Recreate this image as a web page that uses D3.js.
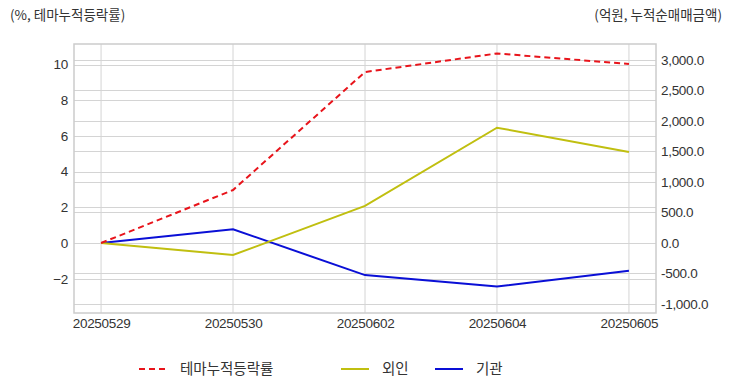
<!DOCTYPE html>
<html>
<head>
<meta charset="utf-8">
<script src="https://cdn.jsdelivr.net/npm/d3@7"></script>
<style>
  body { margin: 0; background: #fff; }
  svg { display: block; font-family: "Noto Sans CJK KR", "Noto Sans", sans-serif; }
</style>
</head>
<body>
<svg id="chart"></svg>
<script>
// chart data
const dates = ["20250529", "20250530", "20250602", "20250604", "20250605"]
const themeRate = [0, 2.97, 9.58, 10.62, 10.03]      // %, left axis
const foreign = [0, -197, 607, 1890, 1490]           // 억원, right axis
const institution = [0, 225, -527, -715, -455]       // 억원, right axis
const leftTicks = [-2, 0, 2, 4, 6, 8, 10]
const rightTicks = [-1000, -500, 0, 500, 1000, 1500, 2000, 2500, 3000]

const width = 732, height = 392
const margin = { top: 44, right: 76, bottom: 79, left: 74 }

const svg = d3.select("#chart")
    .attr("width", width)
    .attr("height", height)
    .attr("viewBox", `0 0 ${width} ${height}`)

const x = d3.scalePoint()
    .domain(dates)
    .range([margin.left, width - margin.right])
    .padding(0.205)
const yL = d3.scaleLinear()
    .domain([-3.92, 11.15])
    .range([height - margin.bottom, margin.top])
const yR = d3.scaleLinear()
    .domain([-1148, 3262])
    .range([height - margin.bottom, margin.top])

const grid = "#d4d4d4"

// gridlines
svg.append("g")
    .attr("stroke", grid)
    .attr("stroke-width", 1)
  .selectAll("line")
  .data(dates)
  .join("line")
    .attr("x1", d => x(d)).attr("x2", d => x(d))
    .attr("y1", margin.top).attr("y2", height - margin.bottom)

svg.append("g")
    .attr("stroke", grid)
  .selectAll("line")
  .data(leftTicks)
  .join("line")
    .attr("x1", margin.left).attr("x2", width - margin.right)
    .attr("y1", d => Math.round(yL(d)) + 0.5).attr("y2", d => Math.round(yL(d)) + 0.5)

svg.append("g")
    .attr("stroke", grid)
  .selectAll("line")
  .data(rightTicks)
  .join("line")
    .attr("x1", margin.left).attr("x2", width - margin.right)
    .attr("y1", d => Math.round(yR(d)) + 0.5).attr("y2", d => Math.round(yR(d)) + 0.5)

// plot border
svg.append("rect")
    .attr("x", margin.left)
    .attr("y", margin.top)
    .attr("width", width - margin.left - margin.right)
    .attr("height", height - margin.top - margin.bottom)
    .attr("fill", "none")
    .attr("stroke", "#cccccc")
    .attr("stroke-width", 1.5)

// axes
const tickFont = g => g.selectAll("text")
    .attr("fill", "#333")
    .style("font-size", "13.5px")
    .style("letter-spacing", "-0.3px")

svg.append("g")
    .attr("transform", `translate(${margin.left},0)`)
    .call(d3.axisLeft(yL).tickValues(leftTicks).tickSize(0).tickPadding(6))
    .call(g => g.select(".domain").remove())
    .call(tickFont)

svg.append("g")
    .attr("transform", `translate(${width - margin.right},0)`)
    .call(d3.axisRight(yR).tickValues(rightTicks).tickSize(0).tickPadding(5)
      .tickFormat(d => d3.format(",.1f")(d).replace("−", "-")))
    .call(g => g.select(".domain").remove())
    .call(tickFont)

svg.append("g")
    .attr("transform", `translate(0,${height - margin.bottom})`)
    .call(d3.axisBottom(x).tickSize(0).tickPadding(5))
    .call(g => g.select(".domain").remove())
    .call(tickFont)

// titles
svg.append("text")
    .attr("x", 10).attr("y", 20)
    .attr("fill", "#333")
    .style("font-size", "13.5px")
    .text("(%, 테마누적등락률)")
svg.append("text")
    .attr("x", 722).attr("y", 20)
    .attr("text-anchor", "end")
    .attr("fill", "#333")
    .style("font-size", "13.5px")
    .text("(억원, 누적순매매금액)")

// lines
const series = [
  { name: "테마누적등락률", values: themeRate, y: yL, color: "#e8141b", dash: "6,4" },
  { name: "외인", values: foreign, y: yR, color: "#c0bf10", dash: null },
  { name: "기관", values: institution, y: yR, color: "#0a0fd6", dash: null }
]

series.slice().reverse().forEach(s => {
  const line = d3.line()
      .x((d, i) => x(dates[i]))
      .y(d => s.y(d))
  svg.append("path")
      .datum(s.values)
      .attr("fill", "none")
      .attr("stroke", s.color)
      .attr("stroke-width", 2)
      .attr("stroke-dasharray", s.dash)
      .attr("d", line)
})

// legend
const legendX = [139, 341, 435]
const legend = svg.append("g")
  .selectAll("g")
  .data(series)
  .join("g")
    .attr("transform", (d, i) => `translate(${legendX[i]},369)`)
legend.append("line")
    .attr("x1", 0).attr("x2", 28)
    .attr("stroke", d => d.color)
    .attr("stroke-width", 2)
    .attr("stroke-dasharray", d => d.dash)
legend.append("text")
    .attr("x", 41).attr("dy", "0.35em")
    .attr("fill", "#333")
    .style("font-size", "14.5px")
    .text(d => d.name)
</script>
</body>
</html>
